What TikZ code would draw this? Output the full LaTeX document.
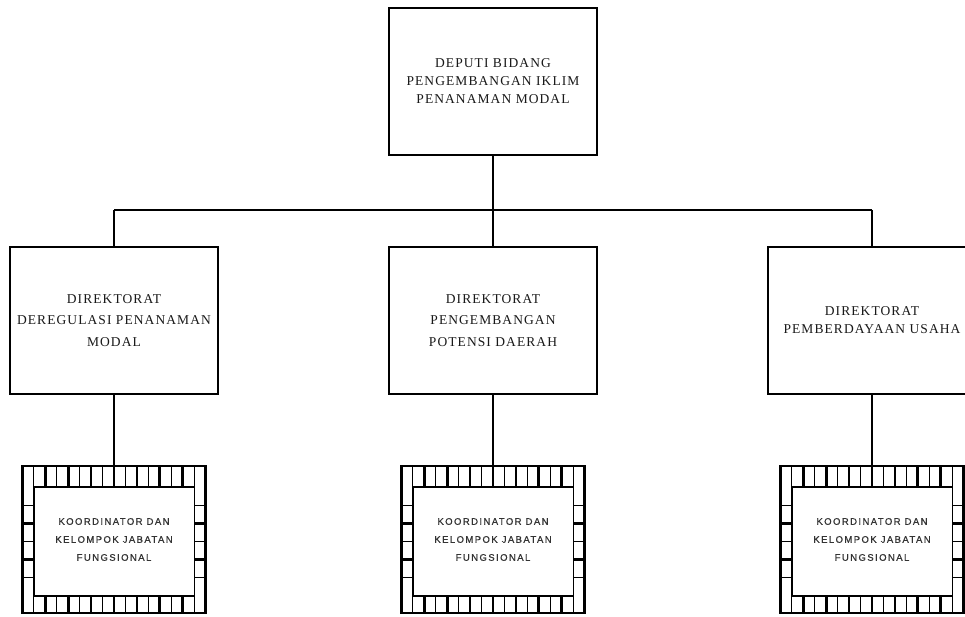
\documentclass[tikz,border=0pt]{standalone}
\usepackage{fontspec}
\setmainfont{Liberation Serif}
\newfontfamily\dirfont[LetterSpace=8]{Liberation Serif}
\newfontfamily\kbfont[LetterSpace=15,FakeBold=0.6]{Liberation Sans}
\newcommand\filmframe[1]{%
  \begin{scope}[shift={(#1.north west)}]
    \draw[line width=1.2pt] (11.4,21) rectangle (171.6,130);
    \foreach \k in {1,...,15}{%
      \pgfmathsetmacro\lw{mod(\k,2)==0 ? 2.6 : 1.0}%
      \draw[line width=\lw pt] ({\k*183/16},0) -- ({\k*183/16},21);
      \draw[line width=\lw pt] ({\k*183/16},130) -- ({\k*183/16},147);
    }
    \foreach \k in {1,...,5}{%
      \pgfmathsetmacro\lw{mod(\k,2)==0 ? 2.6 : 1.0}%
      \draw[line width=\lw pt] (0,{21+\k*109/6}) -- (11.4,{21+\k*109/6});
      \draw[line width=\lw pt] (171.6,{21+\k*109/6}) -- (183,{21+\k*109/6});
    }
  \end{scope}}
\begin{document}
\begin{tikzpicture}[x=1pt,y=-1pt,
  upbox/.style={draw, line width=2.8pt, minimum width=208pt, minimum height=147pt,
    inner sep=0pt, outer sep=0pt, align=center, text=black!90,
    font=\dirfont\fontsize{13.5}{21.5}\selectfont},
  kbbox/.style={draw, line width=2.6pt, minimum width=183pt, minimum height=147pt,
    inner sep=0pt, outer sep=0pt, align=center, text=black!80,
    font=\kbfont\fontsize{9.5}{18}\selectfont},
  thickline/.style={line width=2.8pt},
  thinline/.style={line width=1.4pt}]
\useasboundingbox (0,0) rectangle (965,617);
\clip (0,0) rectangle (965,617);
\fill[white] (0,0) rectangle (965,617);

\node[upbox, font=\dirfont\fontsize{13.5}{18}\selectfont] (top) at (493,81.5)
  {DEPUTI BIDANG\\PENGEMBANGAN IKLIM\\PENANAMAN MODAL};
\node[upbox] (left) at (114,320.5) {DIREKTORAT\\DEREGULASI  PENANAMAN\\MODAL};
\node[upbox] (mid) at (493,320.5) {DIREKTORAT\\PENGEMBANGAN\\POTENSI DAERAH};
\node[upbox, font=\dirfont\fontsize{13.5}{18}\selectfont] (right) at (872,320.5)
  {DIREKTORAT\\PEMBERDAYAAN USAHA};

\node[kbbox] (kb1) at (114,539.5) {KOORDINATOR DAN\\KELOMPOK JABATAN\\FUNGSIONAL};
\node[kbbox] (kb2) at (493,539.5) {KOORDINATOR DAN\\KELOMPOK JABATAN\\FUNGSIONAL};
\node[kbbox] (kb3) at (872,539.5) {KOORDINATOR DAN\\KELOMPOK JABATAN\\FUNGSIONAL};
\filmframe{kb1}
\filmframe{kb2}
\filmframe{kb3}

\coordinate (jl) at (114,210);
\coordinate (jr) at (872,210);
\draw[thinline] (jl) -- (jr);
\draw[thickline] (top.south) -- (mid.north);
\draw[thinline] (jl) -- (left.north);
\draw[thickline] (jr) -- (right.north);
\draw[thinline] (left.south) -- (kb1.north);
\draw[thickline] (mid.south) -- (kb2.north);
\draw[thickline] (right.south) -- (kb3.north);
\end{tikzpicture}
\end{document}
